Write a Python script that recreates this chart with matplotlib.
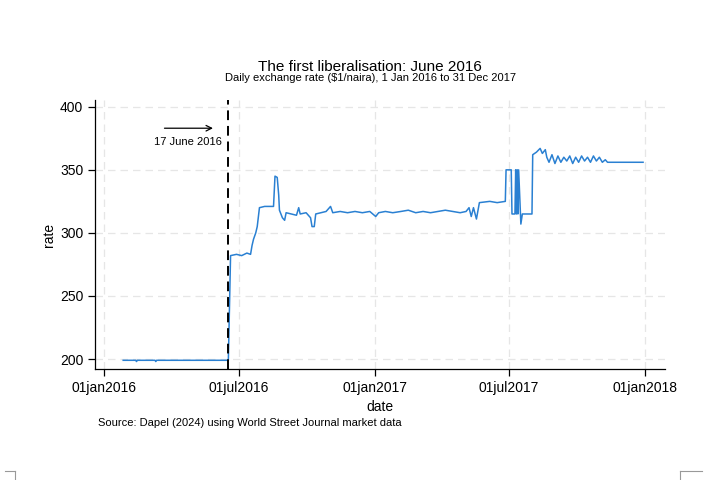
import numpy as np
import pandas as pd
import matplotlib
matplotlib.use("Agg")
import matplotlib.pyplot as plt
from matplotlib.lines import Line2D

plt.rcParams['font.family'] = ['Liberation Sans', 'DejaVu Sans']

# daily rate at key dates
dates = ["2016-01-27", "2016-02-13", "2016-02-14", "2016-02-15", "2016-03-10", "2016-03-11",
         "2016-03-12", "2016-06-17", "2016-06-20", "2016-06-28", "2016-07-05", "2016-07-12",
         "2016-07-17", "2016-07-19", "2016-07-21", "2016-07-24", "2016-07-26", "2016-07-29",
         "2016-08-05", "2016-08-12", "2016-08-17", "2016-08-19", "2016-08-22", "2016-08-24",
         "2016-08-25", "2016-08-29", "2016-09-01", "2016-09-03", "2016-09-10", "2016-09-17",
         "2016-09-20", "2016-09-22", "2016-09-30", "2016-10-06", "2016-10-08", "2016-10-11",
         "2016-10-13", "2016-10-20", "2016-10-27", "2016-11-02", "2016-11-05", "2016-11-15",
         "2016-11-25", "2016-12-05", "2016-12-15", "2016-12-25", "2017-01-02", "2017-01-06",
         "2017-01-15", "2017-01-25", "2017-02-05", "2017-02-15", "2017-02-25", "2017-03-07",
         "2017-03-17", "2017-03-27", "2017-04-06", "2017-04-16", "2017-04-26", "2017-05-04",
         "2017-05-08", "2017-05-11", "2017-05-14", "2017-05-18", "2017-05-22", "2017-06-05",
         "2017-06-15", "2017-06-26", "2017-06-27", "2017-07-04", "2017-07-05", "2017-07-09",
         "2017-07-10", "2017-07-11", "2017-07-12", "2017-07-13", "2017-07-14", "2017-07-17",
         "2017-07-19", "2017-08-01", "2017-08-02", "2017-08-07", "2017-08-12", "2017-08-15",
         "2017-08-19", "2017-08-21", "2017-08-24", "2017-08-28", "2017-09-01", "2017-09-05",
         "2017-09-09", "2017-09-13", "2017-09-17", "2017-09-21", "2017-09-25", "2017-09-29",
         "2017-10-03", "2017-10-07", "2017-10-11", "2017-10-15", "2017-10-19", "2017-10-23",
         "2017-10-27", "2017-10-31", "2017-11-04", "2017-11-08", "2017-11-11", "2017-12-29"]
rate = [199, 199, 198, 199, 199, 198,
        199, 199, 282, 283, 282, 284,
        283, 290, 295, 300, 305, 320,
        321, 321, 321, 345, 344, 330,
        318, 312, 310, 316, 315, 314,
        320, 315, 316, 312, 305, 305,
        315, 316, 317, 321, 316, 317,
        316, 317, 316, 317, 313, 316,
        317, 316, 317, 318, 316, 317,
        316, 317, 318, 317, 316, 317,
        320, 313, 320, 311, 324, 325,
        324, 325, 350, 350, 315, 315,
        350, 315, 350, 315, 350, 307,
        315, 315, 362, 364, 367, 363,
        366, 360, 356, 362, 355, 361,
        356, 360, 357, 361, 355, 360,
        356, 361, 357, 360, 356, 361,
        357, 360, 356, 358, 356, 356]

reform_date = "2016-06-17"
xtick_dates = ["2016-01-01", "2016-07-01", "2017-01-01", "2017-07-01", "2018-01-01"]
xtick_labels = ["01jan2016", "01jul2016", "01jan2017", "01jul2017", "01jan2018"]
ytick_vals = [200, 250, 300, 350, 400]

df = pd.DataFrame({"date": pd.to_datetime(dates), "rate": rate})

fig = plt.figure(figsize=(7.2, 4.8), dpi=100)
ax = fig.add_axes([0.132, 0.231, 0.792, 0.561])

ax.plot(df["date"], df["rate"], color="#2a80d2", lw=1.1)
ax.axvline(pd.Timestamp(reform_date), color="black", ls=(0, (5, 3)), lw=1.4)

ax.annotate("", xy=(pd.Timestamp("2016-05-31"), 383), xytext=(pd.Timestamp("2016-03-19"), 383),
            arrowprops=dict(arrowstyle="->", color="black", lw=0.9))
ax.text(pd.Timestamp("2016-04-24"), 372, "17 June 2016", ha="center", va="center", fontsize=8)

ax.set_xlim(pd.Timestamp("2015-12-20"), pd.Timestamp("2018-01-28"))
ax.set_ylim(192, 405.5)
ax.set_xticks(pd.to_datetime(xtick_dates))
ax.set_xticklabels(xtick_labels)
ax.set_yticks(ytick_vals)
ax.tick_params(labelsize=10, length=5, width=0.9, direction="out", colors="black")
ax.grid(True, color="#e6e6e6", ls=(0, (6, 4)), lw=0.9)
ax.set_axisbelow(True)
for s in ["top", "right"]:
    ax.spines[s].set_visible(False)
ax.spines["left"].set_linewidth(0.9)
ax.spines["bottom"].set_linewidth(0.9)

ax.set_xlabel("date", fontsize=10, labelpad=4)
ax.set_ylabel("rate", fontsize=10, labelpad=3)

fig.text(0.514, 0.853, "The first liberalisation: June 2016", ha="center", fontsize=11)
fig.text(0.514, 0.832, "Daily exchange rate ($1/naira), 1 Jan 2016 to 31 Dec 2017",
         ha="center", fontsize=8)
fig.text(0.136, 0.112, "Source: Dapel (2024) using World Street Journal market data", fontsize=8)

# crop marks at the page corners
for xs, ys in [([0.007, 0.021], [0.019, 0.019]), ([0.021, 0.021], [0.019, 0.0]),
               ([0.944, 0.975], [0.019, 0.019]), ([0.944, 0.944], [0.019, 0.0])]:
    fig.add_artist(Line2D(xs, ys, color="#999999", lw=0.8))

fig.savefig("out.png", dpi=100)
